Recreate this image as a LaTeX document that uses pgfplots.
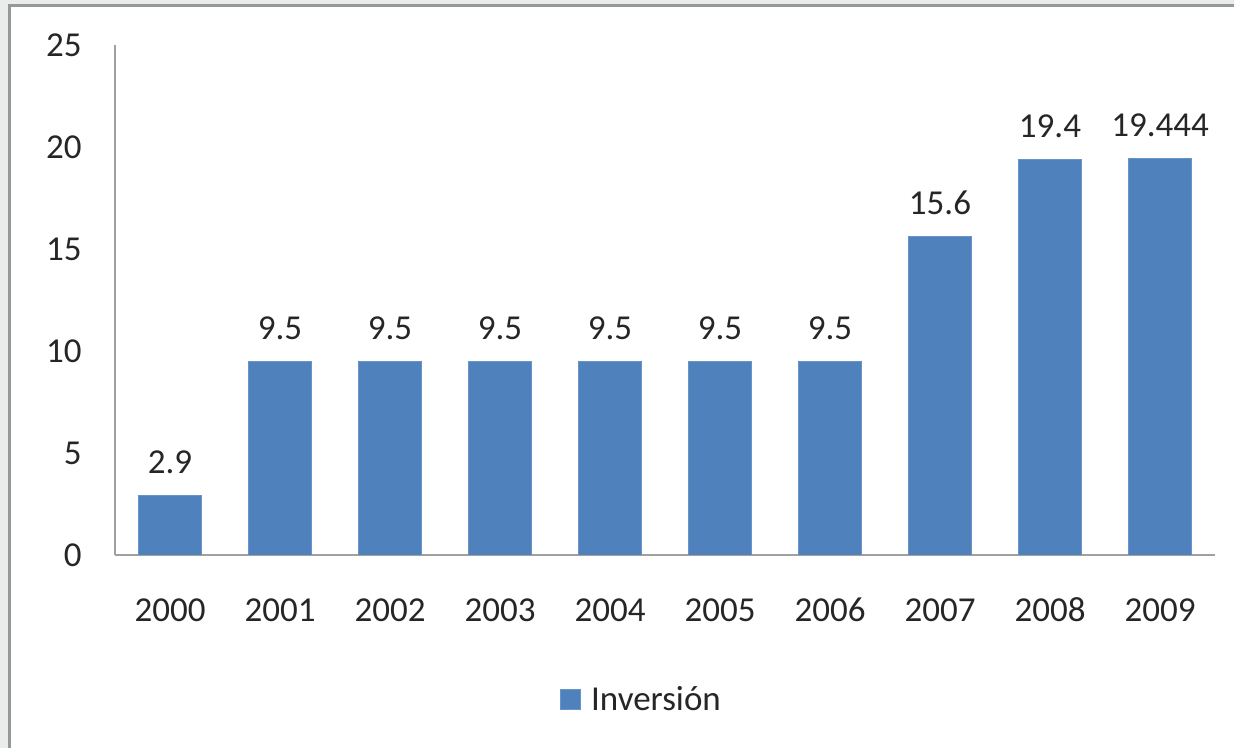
\documentclass[border=0pt]{standalone}
\usepackage{fontspec}
\setmainfont{Carlito}
\usepackage{pgfplots}
\pgfplotsset{compat=1.18}

\definecolor{barblue}{RGB}{79,129,189}
\definecolor{axisgray}{RGB}{160,160,160}
\definecolor{framegray}{RGB}{150,152,152}
\definecolor{bggray}{RGB}{234,236,236}

\begin{document}
\begin{tikzpicture}[font=\fontsize{17.5}{21}\selectfont]
  % screenshot frame
  \fill[bggray] (0,0) rectangle (617pt,374pt);
  \fill[white] (4.5pt,0) rectangle (617pt,371pt);
  \draw[framegray, line width=1.5pt] (4.5pt,0) -- (4.5pt,371pt) -- (617pt,371pt);

  \begin{axis}[
    at={(57.5pt,96.5pt)}, anchor=south west,
    scale only axis,
    width=550pt, height=255pt,
    ybar, bar width=31.5pt,
    xmin=-0.5, xmax=9.5,
    ymin=0, ymax=25,
    ytick={0,5,...,25},
    xtick=data,
    xticklabels={2000,2001,2002,2003,2004,2005,2006,2007,2008,2009},
    axis x line=bottom, axis y line=left,
    axis line style={draw=axisgray, line width=0.6pt, -},
    major tick length=0pt,
    /pgf/number format/assume math mode=true,
    tick label style={font=\fontsize{17.5}{21}\selectfont, text=black!85},
    y tick label style={anchor=east, inner sep=0pt, xshift=-16.5pt},
    x tick label style={anchor=base, inner sep=0pt, yshift=-33.5pt},
    point meta=explicit symbolic,
    nodes near coords,
    every node near coord/.append style={font=\fontsize{17.5}{21}\selectfont,
      text=black!85, anchor=base, inner sep=0pt, yshift=11pt},
    legend style={at={(0.4045,-0.284)}, anchor=west, draw=none, fill=none,
      inner sep=0pt, font=\fontsize{17.5}{21}\selectfont, text=black!85,
      nodes={inner sep=0pt}, column sep=5pt},
    legend image code/.code={\fill[#1] (0pt,-5pt) rectangle (10pt,5pt);},
  ]
    \addplot[fill=barblue, draw=barblue!85!white] coordinates {
      (0,2.9) [2.9]
      (1,9.5) [9.5]
      (2,9.5) [9.5]
      (3,9.5) [9.5]
      (4,9.5) [9.5]
      (5,9.5) [9.5]
      (6,9.5) [9.5]
      (7,15.6) [15.6]
      (8,19.4) [19.4]
      (9,19.444) [19.444]
    };
    \addlegendentry{Inversión}
  \end{axis}
  \pgfresetboundingbox
  \useasboundingbox (0,0) rectangle (617pt,374pt);
\end{tikzpicture}
\end{document}
